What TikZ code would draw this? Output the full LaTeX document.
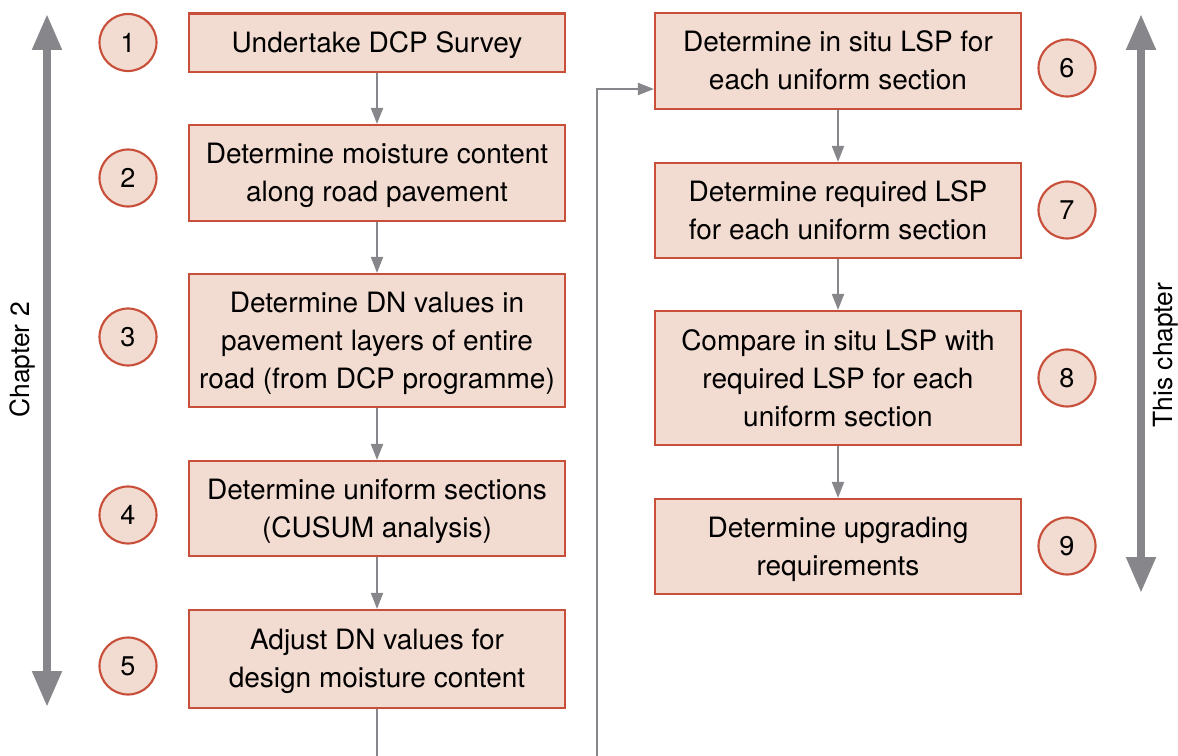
\documentclass[tikz,border=0pt]{standalone}
\usepackage{fontspec}
\setmainfont{TeX Gyre Heros}
\usetikzlibrary{arrows.meta}
\definecolor{boxfill}{HTML}{F2DBD0}
\definecolor{boxline}{HTML}{C84F3A}
\definecolor{arrgray}{HTML}{87878B}
\newcommand{\myTopStrut}{\rule{0pt}{19.5pt}}
\tikzset{
  stepbox/.style={draw=boxline, fill=boxfill, line width=1.6pt, align=center,
    inner sep=0pt, font=\fontsize{21pt}{28.5pt}\selectfont,
    execute at end node={\rule[-4.5pt]{0pt}{4.5pt}}},
  leftbox/.style={stepbox, minimum width=282pt},
  rightbox/.style={stepbox, minimum width=274.5pt},
  numcirc/.style={circle, draw=boxline, fill=boxfill, line width=1.6pt,
    minimum size=42.75pt, inner sep=0pt, font=\fontsize{20.3pt}{24pt}\selectfont},
  conn/.style={draw=arrgray, line width=1.5pt, -{Triangle[length=12pt,width=9pt]}},
  bigarrow/.style={draw=arrgray, line width=6pt,
    {Triangle[length=27pt,width=21pt]}-{Triangle[length=27pt,width=21pt]}},
  sidelabel/.style={rotate=90, font=\fontsize{19.8pt}{24pt}\selectfont, inner sep=0pt}
}
\begin{document}
\begin{tikzpicture}[x=0.75pt, y=-0.75pt]
\useasboundingbox (0,0) rectangle (1178,756);
\clip (0,0) rectangle (1178,756);
% left column
\node[leftbox, minimum height=43.9pt] (b1) at (377,42.75) {\myTopStrut Undertake DCP Survey};
\node[leftbox, minimum height=72pt] (b2) at (377,173) {\myTopStrut Determine moisture content\\along road pavement};
\node[leftbox, minimum height=99.75pt] (b3) at (377,340.5) {\myTopStrut Determine DN values in\\pavement layers of entire\\road (from DCP programme)};
\node[leftbox, minimum height=71.25pt] (b4) at (377,508.5) {\myTopStrut Determine uniform sections\\(CUSUM analysis)};
\node[leftbox, minimum height=73.5pt] (b5) at (377,659) {\myTopStrut Adjust DN values for\\design moisture content};
% right column
\node[rightbox, minimum height=72pt] (b6) at (838,61) {\myTopStrut Determine in situ LSP for\\each uniform section};
\node[rightbox, minimum height=71.25pt] (b7) at (838,210.5) {\myTopStrut Determine required LSP\\for each uniform section};
\node[rightbox, minimum height=100.5pt] (b8) at (838,378) {\myTopStrut Compare in situ LSP with\\required LSP for each\\uniform section};
\node[rightbox, minimum height=71.25pt] (b9) at (838,546.5) {\myTopStrut Determine upgrading\\requirements};
% circles
\node[numcirc] (c1) at (128,42.5) {1};
\node[numcirc] (c2) at (128,178) {2};
\node[numcirc] (c3) at (128,337) {3};
\node[numcirc] (c4) at (128,515) {4};
\node[numcirc] (c5) at (128,666) {5};
\node[numcirc] (c6) at (1067,68) {6};
\node[numcirc] (c7) at (1067,210) {7};
\node[numcirc] (c8) at (1067,378) {8};
\node[numcirc] (c9) at (1067,546) {9};
% connectors
\draw[conn] (b1) -- (b2);
\draw[conn] (b2) -- (b3);
\draw[conn] (b3) -- (b4);
\draw[conn] (b4) -- (b5);
\draw[conn] (b6) -- (b7);
\draw[conn] (b7) -- (b8);
\draw[conn] (b8) -- (b9);
\coordinate (low5) at (377,780);
\coordinate (lowr) at (597,780);
\coordinate (turn) at (597,89);
\draw[conn] (b5.south) -- (low5) -- (lowr) -- (turn) -- (b6.west |- turn);
% big arrows
\coordinate (lt) at (47,14);
\coordinate (lb) at (47,707);
\coordinate (rt) at (1141,14);
\coordinate (rb) at (1141,593);
\draw[bigarrow] (lt) -- (lb);
\draw[bigarrow] (rt) -- (rb);
\node[sidelabel] (l1) at (23,360) {Chapter 2};
\node[sidelabel] (l2) at (1166,355) {This chapter};
\end{tikzpicture}
\end{document}
